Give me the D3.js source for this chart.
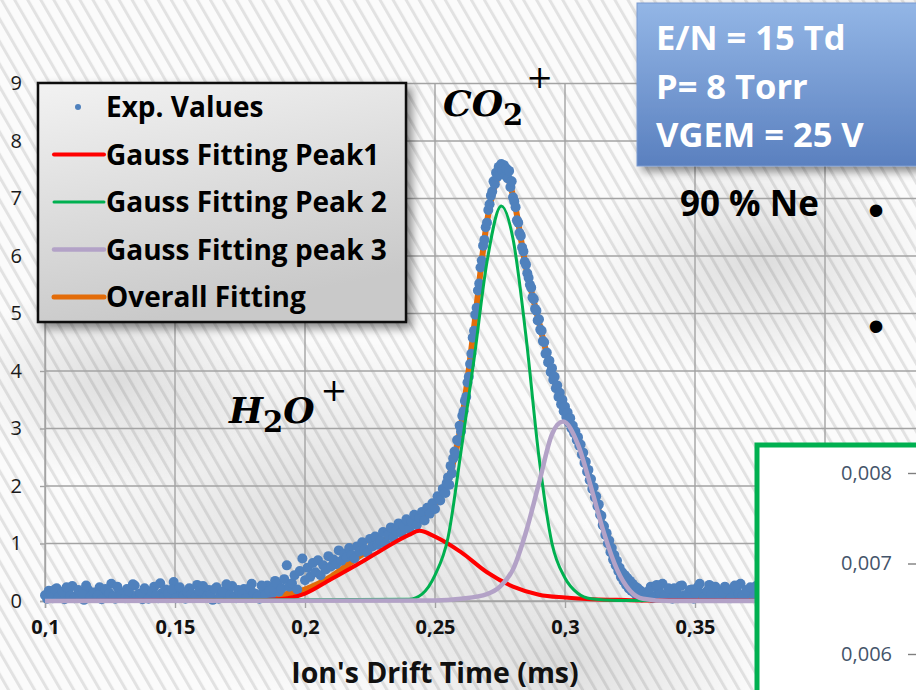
<!DOCTYPE html>
<html>
<head>
<meta charset="utf-8">
<script src="https://cdn.jsdelivr.net/npm/d3@7"></script>
<style>
  body { margin: 0; background: #fff; overflow: hidden; }
  svg { display: block; }
</style>
</head>
<body>
<div id="main"></div>
<script>
// experimental drift-time spectrum [time (ms), signal]
const expValues = [
  [0.1,0.10],[0.1015,0.18],[0.103,0.05],[0.1045,0.22],[0.106,0.12],[0.1075,0.03],[0.109,0.15],[0.1105,0.26],
  [0.112,0.08],[0.1135,0.14],[0.115,0.02],[0.1165,0.20],[0.118,0.11],[0.1195,0.06],[0.121,0.24],[0.1225,0.13],
  [0.124,0.09],[0.1255,0.30],[0.127,0.04],[0.1285,0.16],[0.13,0.10],[0.1315,0.21],[0.133,0.07],[0.1345,0.27],
  [0.136,0.12],[0.1375,0.03],[0.139,0.18],[0.1405,0.09],[0.142,0.25],[0.1435,0.05],[0.145,0.14],[0.1465,0.20],
  [0.148,0.08],[0.1495,0.33],[0.151,0.11],[0.1525,0.17],[0.154,0.04],[0.1555,0.22],[0.157,0.10],[0.1585,0.28],
  [0.16,0.06],[0.1615,0.15],[0.163,0.19],[0.1645,0.02],[0.166,0.24],[0.1675,0.12],[0.169,0.08],[0.1705,0.18],
  [0.172,0.26],[0.1735,0.05],[0.175,0.14],[0.1765,0.21],[0.178,0.09],[0.1795,0.30],[0.181,0.12],[0.1825,0.04],
  [0.184,0.19],[0.1855,0.27],[0.187,0.10],[0.1885,0.35],[0.19,0.16],
  [0.1008,0.04],[0.1023,0.13],[0.1038,0.20],[0.1053,0.07],[0.1068,0.16],[0.1083,0.24],[0.1098,0.09],[0.1113,0.05],
  [0.1128,0.19],[0.1143,0.12],[0.1158,0.27],[0.1173,0.06],[0.1188,0.15],[0.1203,0.10],[0.1218,0.03],[0.1233,0.21],
  [0.1248,0.14],[0.1263,0.08],[0.1278,0.25],[0.1293,0.11],[0.1308,0.05],[0.1323,0.17],[0.1338,0.29],[0.1353,0.09],
  [0.1368,0.13],[0.1383,0.22],[0.1398,0.04],[0.1413,0.16],[0.1428,0.10],[0.1443,0.31],[0.1458,0.07],[0.1473,0.13],
  [0.1488,0.20],[0.1503,0.05],[0.1518,0.24],[0.1533,0.09],[0.1548,0.15],[0.1563,0.12],[0.1578,0.06],[0.1593,0.18],
  [0.1608,0.26],[0.1623,0.08],[0.1638,0.11],[0.1653,0.21],[0.1668,0.04],[0.1683,0.16],[0.1698,0.29],[0.1713,0.10],
  [0.1728,0.07],[0.1743,0.19],[0.1758,0.12],[0.1773,0.05],[0.1788,0.23],[0.1803,0.14],[0.1818,0.08],[0.1833,0.27],
  [0.1848,0.11],[0.1863,0.18],[0.1878,0.22],[0.1893,0.30],
  [0.191,0.22],[0.192,0.38],[0.193,0.62],[0.194,0.25],[0.195,0.31],[0.196,0.45],[0.197,0.20],[0.198,0.52],
  [0.199,0.74],[0.2,0.36],[0.201,0.58],[0.202,0.42],[0.203,0.66],[0.204,0.50],[0.205,0.71],[0.206,0.45],
  [0.207,0.62],[0.208,0.55],[0.209,0.78],[0.21,0.60],[0.211,0.72],[0.212,0.64],[0.213,0.88],[0.214,0.70],
  [0.215,0.82],[0.216,0.76],[0.217,0.92],[0.218,0.80],[0.219,0.74],[0.22,0.95],[0.221,0.86],[0.222,1.02],
  [0.223,0.90],[0.224,0.84],[0.225,1.08],[0.226,0.95],[0.227,1.12],[0.228,0.98],[0.229,1.05],[0.23,1.20],
  [0.231,1.00],[0.232,1.15],[0.233,1.28],[0.234,1.10],[0.235,1.22],[0.236,1.35],[0.237,1.18],[0.238,1.30],
  [0.239,1.42],[0.24,1.25],[0.241,1.38],[0.242,1.50],[0.243,1.32],[0.244,1.45],[0.245,1.55],[0.246,1.40],
  [0.247,1.62],[0.248,1.52],[0.249,1.70],[0.25,1.60],[0.251,1.82],[0.252,1.75],[0.253,1.95],[0.254,1.88],
  [0.2545,2.05],[0.255,2.15],[0.2555,2.02],[0.256,2.35],[0.2565,2.22],[0.257,2.48],[0.2575,2.60],[0.258,2.55],
  [0.2585,2.80],[0.259,2.78],[0.2595,3.05],[0.26,2.95],[0.2605,3.22],[0.261,3.30],[0.2615,3.48],[0.262,3.55],
  [0.2625,3.80],[0.263,3.90],[0.2635,4.12],[0.264,4.30],[0.2645,4.58],[0.265,4.70],[0.2655,4.98],[0.266,5.10],
  [0.2665,5.40],[0.267,5.52],[0.2675,5.80],[0.268,5.92],[0.2685,6.18],[0.269,6.28],[0.2695,6.50],[0.27,6.58],
  [0.2705,6.80],[0.271,6.90],[0.2715,7.05],[0.272,7.12],[0.2725,7.30],[0.273,7.25],[0.2735,7.45],[0.274,7.38],
  [0.2745,7.55],[0.275,7.42],[0.2755,7.60],[0.276,7.48],[0.2765,7.58],[0.277,7.40],[0.2775,7.52],[0.278,7.35],
  [0.2785,7.48],[0.279,7.20],[0.2795,7.30],[0.28,7.02],[0.2805,6.95],[0.281,6.85],[0.2815,6.62],[0.282,6.58],
  [0.2825,6.40],[0.283,6.35],[0.2835,6.15],[0.284,6.08],[0.2845,5.90],[0.285,5.85],[0.2855,5.70],[0.286,5.62],
  [0.2865,5.50],[0.287,5.45],[0.2875,5.28],[0.288,5.25],[0.2885,5.08],[0.289,5.05],[0.2895,4.88],[0.29,4.90],
  [0.2905,4.72],[0.291,4.70],[0.2915,4.52],[0.292,4.50],[0.2925,4.30],[0.293,4.32],[0.2935,4.15],[0.294,4.18],
  [0.2945,3.98],[0.295,4.05],[0.2955,3.85],[0.296,3.90],[0.2965,3.70],[0.297,3.75],[0.2975,3.55],[0.298,3.62],
  [0.2985,3.42],[0.299,3.50],[0.2995,3.30],[0.3,3.38],[0.3005,3.20],[0.301,3.28],[0.3015,3.10],[0.302,3.18],
  [0.3025,3.00],[0.303,3.05],[0.3035,2.92],[0.304,2.95],[0.3045,2.80],[0.305,2.85],[0.3055,2.70],[0.306,2.72],
  [0.3065,2.55],[0.307,2.58],[0.3075,2.40],[0.308,2.42],[0.3085,2.25],[0.309,2.28],[0.3095,2.10],[0.31,2.12],
  [0.3105,1.95],[0.311,1.98],[0.3115,1.80],[0.312,1.82],[0.3125,1.65],[0.313,1.68],[0.3135,1.50],[0.314,1.48],
  [0.3145,1.32],[0.315,1.30],[0.3155,1.15],[0.316,1.18],[0.3165,1.00],[0.317,1.05],[0.3175,0.85],[0.318,0.92],
  [0.3185,0.72],[0.319,0.80],[0.3195,0.62],[0.32,0.70],[0.3205,0.52],[0.321,0.58],[0.3215,0.42],[0.322,0.50],
  [0.3225,0.35],[0.323,0.45],[0.3235,0.28],[0.324,0.40],[0.3245,0.22],[0.325,0.35],[0.3255,0.18],[0.326,0.30],
  [0.3265,0.15],[0.327,0.25],[0.3275,0.10],[0.328,0.22],[0.3285,0.08],[0.329,0.18],[0.3295,0.06],[0.33,0.15],
  [0.3315,0.12],[0.333,0.25],[0.3345,0.08],[0.336,0.18],[0.3375,0.30],[0.339,0.06],[0.3405,0.14],[0.342,0.22],
  [0.3435,0.05],[0.345,0.27],[0.3465,0.10],[0.348,0.19],[0.3495,0.04],[0.351,0.24],[0.3525,0.13],[0.354,0.08],
  [0.3555,0.28],[0.357,0.11],[0.3585,0.20],[0.36,0.06],[0.3615,0.25],[0.363,0.15],[0.3645,0.09],[0.366,0.22],
  [0.3675,0.30],[0.369,0.07],[0.3705,0.17],[0.372,0.12],[0.3735,0.26],[0.375,0.10],
  [0.3323,0.18],[0.3338,0.05],[0.3353,0.28],[0.3368,0.13],[0.3383,0.09],[0.3398,0.22],[0.3413,0.04],[0.3428,0.16],
  [0.3443,0.26],[0.3458,0.10],[0.3473,0.07],[0.3488,0.20],[0.3503,0.14],[0.3518,0.30],[0.3533,0.06],[0.3548,0.18],
  [0.3563,0.11],[0.3578,0.25],[0.3593,0.08],[0.3608,0.15],[0.3623,0.21],[0.3638,0.05],[0.3653,0.27],[0.3668,0.12],
  [0.3683,0.09],[0.3698,0.19],[0.3713,0.24],[0.3728,0.07],[0.3743,0.16],[0.3758,0.13]
]

// fitted curves
const peak1Time = [0.10, 0.18, 0.19, 0.20, 0.21, 0.22, 0.23, 0.24, 0.244, 0.25, 0.26, 0.27, 0.28, 0.29, 0.30, 0.31, 0.32, 0.33, 0.45]
const peak1Values = [0, 0.01, 0.03, 0.13, 0.38, 0.63, 0.9, 1.15, 1.22, 1.12, 0.85, 0.5, 0.25, 0.11, 0.06, 0.03, 0.02, 0.01, 0]

const peak2Time = [0.10, 0.24, 0.245, 0.25, 0.255, 0.26, 0.265, 0.27, 0.2755, 0.28, 0.285, 0.29, 0.295, 0.30, 0.305, 0.31, 0.32, 0.45]
const peak2Values = [0, 0.03, 0.12, 0.45, 1.1, 2.6, 4.2, 5.9, 6.87, 6.3, 4.6, 2.5, 1.0, 0.4, 0.13, 0.04, 0.01, 0]

const peak3Time = [0.10, 0.25, 0.26, 0.27, 0.275, 0.28, 0.285, 0.29, 0.295, 0.2992, 0.305, 0.31, 0.315, 0.32, 0.325, 0.33, 0.34, 0.45]
const peak3Values = [0, 0.01, 0.04, 0.12, 0.25, 0.55, 1.2, 2.05, 2.9, 3.12, 2.72, 1.98, 1.18, 0.55, 0.18, 0.04, 0, 0]

const overallTime = [0.10, 0.15, 0.18, 0.19, 0.20, 0.21, 0.22, 0.23, 0.24, 0.245, 0.25, 0.255, 0.26, 0.265, 0.27, 0.2765, 0.28, 0.285, 0.29, 0.295, 0.30, 0.305, 0.31, 0.315, 0.32, 0.325, 0.33, 0.35, 0.45]
const overallValues = [0.04, 0.05, 0.06, 0.1, 0.2, 0.42, 0.75, 1.05, 1.3, 1.42, 1.7, 2.1, 3.05, 4.75, 6.6, 7.48, 7.05, 5.8, 4.85, 3.95, 3.3, 2.8, 2.05, 1.25, 0.6, 0.2, 0.06, 0.04, 0.04]

const gridTicks = [0.1, 0.15, 0.2, 0.25, 0.3, 0.35, 0.4, 0.45]
const xTicks = [0.1, 0.15, 0.2, 0.25, 0.3, 0.35, 0.4]
const yTicks = [0, 1, 2, 3, 4, 5, 6, 7, 8, 9]
const insetTicks = [0.006, 0.007, 0.008]

const legendNames = ['Exp. Values', 'Gauss Fitting Peak1', 'Gauss Fitting Peak 2', 'Gauss Fitting peak 3', 'Overall Fitting']
const infoLines = ['E/N = 15 Td', 'P= 8 Torr', 'VGEM = 25 V']

const width = 916, height = 690
const font = '"Open Sans", Lato, sans-serif'

let svg = d3.select('div#main').append('svg')
  .attr('width', width)
  .attr('height', height)

let defs = svg.append('defs')

let hatch = defs.append('pattern')
  .attr('id', 'hatch')
  .attr('width', 11.3).attr('height', 11.3)
  .attr('patternUnits', 'userSpaceOnUse')
  .attr('patternTransform', 'rotate(-30)')
hatch.append('rect').attr('width', 3).attr('height', 11.3).attr('fill', '#e2e2e2')

let shade = defs.append('radialGradient').attr('id', 'shade')
shade.append('stop').attr('offset', '0%').attr('stop-color', '#000').attr('stop-opacity', 0.12)
shade.append('stop').attr('offset', '100%').attr('stop-color', '#000').attr('stop-opacity', 0)

let legendFill = defs.append('linearGradient').attr('id', 'legendFill')
  .attr('x1', 0).attr('y1', 0).attr('x2', 0.3).attr('y2', 1)
legendFill.append('stop').attr('offset', '0%').attr('stop-color', '#f2f2f2')
legendFill.append('stop').attr('offset', '100%').attr('stop-color', '#c9c9c9')

let boxFill = defs.append('linearGradient').attr('id', 'boxFill')
  .attr('x1', 0).attr('y1', 0).attr('x2', 0).attr('y2', 1)
boxFill.append('stop').attr('offset', '0%').attr('stop-color', '#93b6e6')
boxFill.append('stop').attr('offset', '100%').attr('stop-color', '#5a80bf')

let shadow = defs.append('filter').attr('id', 'shadow')
  .attr('x', '-10%').attr('y', '-10%').attr('width', '130%').attr('height', '130%')
shadow.append('feDropShadow').attr('dx', 5).attr('dy', 5).attr('stdDeviation', 5)
  .attr('flood-color', '#000').attr('flood-opacity', 0.45)

// background
svg.append('rect').attr('width', width).attr('height', height).attr('fill', '#fbfbfb')
svg.append('rect').attr('width', width).attr('height', height).attr('fill', 'url(#hatch)')
const shadeSpots = [[330, 520, 260], [760, 260, 170], [560, 660, 200], [120, 380, 150]]
svg.selectAll('ellipse.spot')
  .data(shadeSpots)
  .enter()
  .append('ellipse')
    .attr('class', 'spot')
    .attr('cx', d => d[0]).attr('cy', d => d[1])
    .attr('rx', d => d[2]).attr('ry', d => d[2] * 0.7)
    .attr('fill', 'url(#shade)')

let x = d3.scaleLinear().domain([0.1, 0.45]).range([45, 955])
let y = d3.scaleLinear().domain([0, 9]).range([601, 83.5])

// grid
let grid = svg.append('g').attr('stroke', '#a3a3a3').attr('stroke-width', 1.4)
grid.selectAll('line.gx')
  .data(gridTicks)
  .enter()
  .append('line')
    .attr('class', 'gx')
    .attr('x1', d => x(d)).attr('x2', d => x(d))
    .attr('y1', y(9)).attr('y2', y(0))
grid.selectAll('line.gy')
  .data(yTicks)
  .enter()
  .append('line')
    .attr('class', 'gy')
    .attr('x1', x(0.1)).attr('x2', x(0.45))
    .attr('y1', d => y(d)).attr('y2', d => y(d))

const fmt = d => d3.format('.3~f')(d).replace('.', ',')

let xAxis = svg.append('g')
  .attr('transform', `translate(0,${y(0)})`)
  .call(d3.axisBottom(x).tickValues(xTicks).tickSize(7).tickPadding(12).tickFormat(fmt))
xAxis.select('.domain').attr('stroke', '#a3a3a3').attr('stroke-width', 1.4)
xAxis.selectAll('.tick line').attr('stroke', '#a3a3a3').attr('stroke-width', 1.4)
xAxis.selectAll('.tick text')
  .attr('font-family', font).attr('font-size', 20).attr('font-weight', 'bold').attr('fill', '#111')

let yAxis = svg.append('g')
  .attr('transform', `translate(${x(0.1)},0)`)
  .call(d3.axisLeft(y).tickValues(yTicks).tickSize(5).tickPadding(18))
yAxis.select('.domain').attr('stroke', '#a3a3a3').attr('stroke-width', 1.4)
yAxis.selectAll('.tick line').attr('stroke', '#a3a3a3').attr('stroke-width', 1.4)
yAxis.selectAll('.tick text')
  .attr('font-family', font).attr('font-size', 20).attr('fill', '#1a1a1a')

svg.append('text')
  .attr('x', x(0.25)).attr('y', 683)
  .attr('text-anchor', 'middle')
  .attr('font-family', font).attr('font-size', 28.5).attr('font-weight', 'bold')
  .attr('fill', '#111')
  .text("Ion's Drift Time (ms)")

// curves
let line = d3.line()
  .x(d => x(d[0]))
  .y(d => y(d[1]))
  .curve(d3.curveMonotoneX)

const zip = (t, v) => t.map((d, i) => [d, v[i]])

svg.append('path')
  .attr('d', line(zip(overallTime, overallValues)))
  .attr('fill', 'none').attr('stroke', '#e36c09').attr('stroke-width', 6)

svg.selectAll('circle.exp')
  .data(expValues)
  .enter()
  .append('circle')
    .attr('class', 'exp')
    .attr('cx', d => x(d[0]))
    .attr('cy', d => y(d[1]))
    .attr('r', 5)
    .attr('fill', '#4f81bd')

const fits = [
  {t: peak1Time, v: peak1Values, color: '#ff0000', w: 4},
  {t: peak2Time, v: peak2Values, color: '#00b050', w: 3},
  {t: peak3Time, v: peak3Values, color: '#b3a2c7', w: 4.5}
]
fits.forEach(f => {
  svg.append('path')
    .attr('d', line(zip(f.t, f.v)))
    .attr('fill', 'none')
    .attr('stroke', f.color)
    .attr('stroke-width', f.w)
})

// ion labels
const mathFont = '"DejaVu Serif", "Liberation Serif", serif'
function ionLabel(px, py, main1, sub, main2, plusUp) {
  let t = svg.append('text')
    .attr('x', px).attr('y', py)
    .attr('font-family', mathFont).attr('font-style', 'italic').attr('font-weight', 'bold')
    .attr('font-size', 36).attr('fill', '#000')
  t.append('tspan').text(main1)
  t.append('tspan').attr('dy', 9).attr('font-size', 29).attr('font-style', 'normal').text(sub)
  if (main2) t.append('tspan').attr('dy', -9).text(main2)
  t.append('tspan').attr('dy', -plusUp).attr('dx', main2 ? 6 : 3).attr('font-size', 32)
    .attr('font-style', 'normal').attr('font-weight', 'normal').text('+')
}
ionLabel(443, 116, 'CO', '2', null, 37)
ionLabel(229, 423, 'H', '2', 'O', 22)

// legend
let legend = svg.append('g')
legend.append('rect')
  .attr('x', 38).attr('y', 83).attr('width', 368).attr('height', 239)
  .attr('fill', 'url(#legendFill)')
  .attr('stroke', '#111').attr('stroke-width', 2.5)
  .attr('filter', 'url(#shadow)')

const legendColors = ['#4f81bd', '#ff0000', '#00b050', '#b3a2c7', '#e36c09']
const legendWidths = [0, 4, 3, 4.5, 5]
let items = legend.selectAll('g.item')
  .data(legendNames)
  .enter()
  .append('g')
    .attr('class', 'item')
    .attr('transform', (d, i) => `translate(0,${107 + i * 47.5})`)
items.filter((d, i) => i > 0).append('line')
  .attr('x1', 54).attr('x2', 104)
  .attr('stroke', (d, i) => legendColors[i + 1])
  .attr('stroke-width', (d, i) => legendWidths[i + 1])
  .attr('stroke-linecap', 'round')
items.filter((d, i) => i === 0).append('circle')
  .attr('cx', 78).attr('r', 3).attr('fill', legendColors[0])
items.append('text')
  .attr('x', 106).attr('dy', '0.36em')
  .attr('font-family', font).attr('font-size', 28).attr('font-weight', 'bold')
  .attr('fill', '#000')
  .text(d => d)

// conditions box
svg.append('rect')
  .attr('x', 637).attr('y', 3).attr('width', 300).attr('height', 163)
  .attr('fill', 'url(#boxFill)')
  .attr('stroke', '#7a9ad0').attr('stroke-width', 1)
  .attr('filter', 'url(#shadow)')
svg.selectAll('text.info')
  .data(infoLines)
  .enter()
  .append('text')
    .attr('class', 'info')
    .attr('x', 656).attr('y', (d, i) => 50 + i * 48.5)
    .attr('font-family', font).attr('font-size', 34.5).attr('font-weight', 'bold')
    .attr('fill', '#fff')
    .text(d => d)

svg.append('text')
  .attr('x', 680).attr('y', 216)
  .attr('font-family', font).attr('font-size', 35).attr('font-weight', 'bold')
  .attr('fill', '#000')
  .text('90 % Ne')

svg.selectAll('text.bullet')
  .data([226, 342])
  .enter()
  .append('text')
    .attr('class', 'bullet')
    .attr('x', 868).attr('y', d => d)
    .attr('font-family', 'Arial, "Liberation Sans", sans-serif').attr('font-size', 46)
    .attr('fill', '#000')
    .text('•')

// inset chart frame
svg.append('rect')
  .attr('x', 757).attr('y', 445).attr('width', 200).attr('height', 300)
  .attr('fill', '#fff').attr('stroke', '#00b050').attr('stroke-width', 5)

let yIn = d3.scaleLinear().domain([0.006, 0.008]).range([654, 473])
let inAxis = svg.append('g')
  .attr('transform', 'translate(916,0)')
  .call(d3.axisLeft(yIn).tickValues(insetTicks).tickSize(8).tickPadding(16).tickFormat(fmt))
inAxis.select('.domain').remove()
inAxis.selectAll('.tick line').attr('stroke', '#7f7f7f').attr('stroke-width', 1.4)
inAxis.selectAll('.tick text')
  .attr('font-family', '"Open Sans", sans-serif').attr('font-size', 20).attr('fill', '#44546a')
</script>
</body>
</html>
